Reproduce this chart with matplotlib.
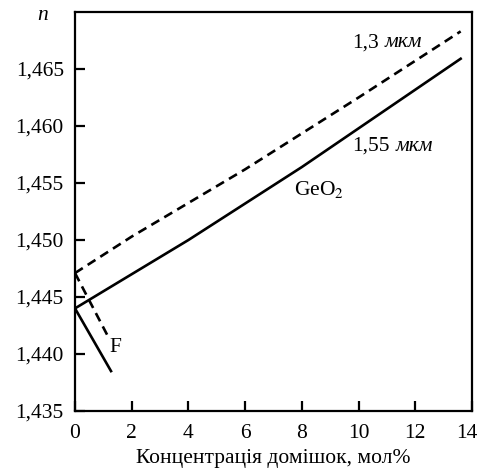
import matplotlib
matplotlib.use("Agg")
import matplotlib.pyplot as plt
from matplotlib.transforms import offset_copy, ScaledTranslation

plt.rcParams['font.family'] = ['Liberation Serif', 'DejaVu Serif']
plt.rcParams['mathtext.fontset'] = 'stix'

# 1.3 um (dashed), GeO2 doping
x_geo_13 = [0, 2, 6, 10, 13.6]
n_geo_13 = [1.4471, 1.4503, 1.4562, 1.4625, 1.4683]
# 1.55 um (solid), GeO2 doping
x_geo_155 = [0, 4, 8, 13.6]
n_geo_155 = [1.4440, 1.4500, 1.4564, 1.4659]
# F doping
x_f_13 = [0, 1.13]
n_f_13 = [1.4471, 1.4417]
x_f_155 = [0, 1.27]
n_f_155 = [1.4440, 1.4385]

xticks = [0, 2, 4, 6, 8, 10, 12, 14]
yticks = [1.435, 1.440, 1.445, 1.450, 1.455, 1.460, 1.465]
ytick_labels = ["1,435", "1,440", "1,445", "1,450", "1,455", "1,460", "1,465"]

fs = 15.5

fig = plt.figure(figsize=(4.81, 4.75), dpi=100)
ax = fig.add_axes([75/481, 1 - 411/475, (472-75)/481, (411-12)/475])

lw = 1.9
dash = (3.5, 2.2)
ax.plot(x_geo_13, n_geo_13, color='black', lw=lw, dashes=dash)
ax.plot(x_f_13, n_f_13, color='black', lw=lw, dashes=dash)
ax.plot(x_geo_155, n_geo_155, color='black', lw=lw)
ax.plot(x_f_155, n_f_155, color='black', lw=lw)

ax.set_xlim(0, 14)
ax.set_ylim(1.435, 1.470)
ax.set_xticks(xticks)
ax.set_xticklabels([str(v) for v in xticks])
ax.set_yticks(yticks)
ax.set_yticklabels(ytick_labels)
ax.tick_params(direction='in', length=7, width=1.6, labelsize=fs)
ax.tick_params(axis='x', pad=9)
ax.tick_params(axis='y', pad=8)
for s in ax.spines.values():
    s.set_linewidth(1.6)

last = ax.get_xticklabels()[-1]
last.set_transform(last.get_transform() + ScaledTranslation(-5/100, 0, fig.dpi_scale_trans))

fig.canvas.draw()
r = fig.canvas.get_renderer()
for (xv, yv, num) in [(9.78, 1.4673, "1,3"), (9.78, 1.4582, "1,55")]:
    t = ax.text(xv, yv, num, fontsize=fs, va='center', ha='left')
    w = t.get_window_extent(renderer=r).width
    tr = offset_copy(ax.transData, fig=fig, x=(w + 6) * 72 / fig.dpi, y=0, units='points')
    ax.text(xv, yv, "мкм", fontsize=fs, va='center', ha='left', style='italic', transform=tr)

ax.text(7.72, 1.4544, r"GeO$_2$", fontsize=fs, va='center', ha='left')
ax.text(1.22, 1.4406, "F", fontsize=fs, va='center', ha='left')

ax.text(-1.13, 1.4693, "n", fontsize=fs, style='italic', va='baseline', ha='center')
ax.set_xlabel("Концентрація домішок, мол%", fontsize=fs, labelpad=5)

fig.savefig("out.png", dpi=100)
